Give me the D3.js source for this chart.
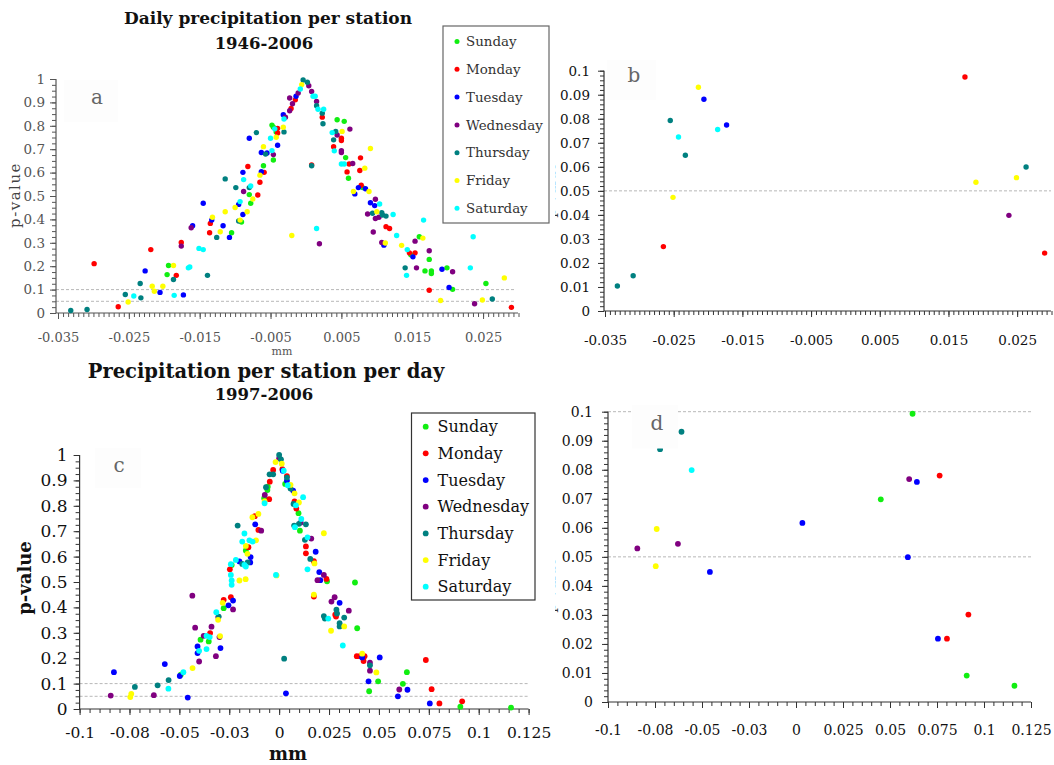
<!DOCTYPE html>
<html><head><meta charset="utf-8">
<script src="https://cdn.jsdelivr.net/npm/d3@7"></script>
<style>body{margin:0;background:#fff} svg{display:block}</style>
</head><body><svg id="chart" width="1054" height="765"></svg>
<script>
const days = ["Sunday","Monday","Tuesday","Wednesday","Thursday","Friday","Saturday"];
const dayColors = ["#11ee11","#ff0000","#0000ff","#800080","#008080","#ffff00","#00ffff"];

// ---- Panel a: daily precipitation per station 1946-2006 (mm, p-value)
const aSunday = [[-0.0196,0.164],[-0.0194,0.203],[-0.0105,0.343],[-0.0091,0.389],[-0.008,0.506],[-0.0078,0.469],[-0.006,0.629],[-0.0048,0.803],[-0.0046,0.794],[-0.0046,0.654],[-0.0042,0.774],[0.0044,0.826],[0.0054,0.819],[0.0056,0.664],[0.006,0.576],[0.008,0.536],[0.0148,0.249],[0.016,0.326],[0.0168,0.18],[0.0174,0.229],[0.0177,0.18],[0.0177,0.169],[0.0199,0.193],[0.0207,0.101],[0.0254,0.126]];
const aMonday = [[-0.0299,0.211],[-0.0265,0.0268],[-0.0219,0.271],[-0.0183,0.161],[-0.0176,0.301],[-0.0136,0.343],[-0.0135,0.383],[-0.0082,0.626],[-0.0068,0.504],[-0.0065,0.559],[-0.0059,0.601],[-0.004,0.769],[-0.004,0.789],[-0.0021,0.874],[-0.0015,0.911],[0.0008,0.633],[0.0023,0.837],[0.0039,0.711],[0.005,0.747],[0.005,0.737],[0.0058,0.603],[0.0061,0.637],[0.0076,0.609],[0.0077,0.663],[0.0078,0.546],[0.0113,0.369],[0.0118,0.361],[0.0146,0.257],[0.0154,0.257],[0.0174,0.0974],[0.029,0.0241]];
const aTuesday = [[-0.0227,0.18],[-0.0206,0.0881],[-0.0173,0.0774],[-0.016,0.373],[-0.0145,0.469],[-0.0133,0.397],[-0.0117,0.373],[-0.0108,0.323],[-0.0095,0.464],[-0.0089,0.421],[-0.0089,0.601],[-0.008,0.747],[-0.0063,0.686],[-0.0063,0.604],[-0.0055,0.684],[-0.004,0.717],[-0.0032,0.847],[-0.0014,0.926],[0.0069,0.509],[0.0074,0.536],[0.0084,0.531],[0.0091,0.471],[0.0097,0.459],[0.011,0.29],[0.0151,0.24],[0.0192,0.187],[0.0202,0.109]];
const aWednesday = [[-0.0176,0.286],[-0.0162,0.364],[-0.0088,0.519],[-0.0046,0.677],[-0.0029,0.837],[-0.0023,0.919],[-0.0023,0.864],[-0.0019,0.894],[-0.0011,0.94],[0.0004,0.971],[0.0008,0.947],[0.0015,0.904],[0.0019,0.296],[0.0044,0.761],[0.005,0.694],[0.005,0.686],[0.0062,0.786],[0.0066,0.639],[0.0087,0.423],[0.0095,0.346],[0.0098,0.486],[0.0098,0.404],[0.0103,0.409],[0.0107,0.301],[0.0154,0.307],[0.0156,0.193],[0.0174,0.266],[0.0207,0.176],[0.0238,0.0398]];
const aThursday = [[-0.0332,0.0104],[-0.0309,0.0147],[-0.0255,0.0793],[-0.0233,0.0648],[-0.0234,0.126],[-0.0187,0.143],[-0.0139,0.161],[-0.0126,0.323],[-0.0114,0.573],[-0.0099,0.536],[-0.0095,0.393],[-0.008,0.536],[-0.007,0.771],[-0.0057,0.679],[-0.0031,0.774],[-0.0004,0.996],[0.0002,0.986],[0.0008,0.629],[0.0015,0.886],[0.0023,0.854],[0.0024,0.809],[0.0039,0.74],[0.0042,0.776],[0.0094,0.426],[0.0107,0.429],[0.0108,0.419],[0.0113,0.414],[0.014,0.193],[0.0263,0.0599]];
const aFriday = [[-0.0251,0.0473],[-0.0217,0.114],[-0.0214,0.0931],[-0.0202,0.114],[-0.0187,0.203],[-0.0132,0.409],[-0.0121,0.347],[-0.0114,0.433],[-0.01,0.451],[-0.0093,0.397],[-0.0083,0.433],[-0.0075,0.487],[-0.0065,0.589],[-0.006,0.711],[-0.0042,0.751],[-0.0032,0.794],[-0.002,0.331],[-0.0006,0.976],[0.0051,0.776],[0.0067,0.519],[0.0083,0.619],[0.0089,0.519],[0.0091,0.703],[0.01,0.433],[0.0112,0.299],[0.0135,0.289],[0.0165,0.32],[0.019,0.0536],[0.0249,0.0555],[0.028,0.15]];
const aSaturday = [[-0.0243,0.0724],[-0.0186,0.0755],[-0.0166,0.193],[-0.0164,0.197],[-0.0151,0.276],[-0.0145,0.271],[-0.0093,0.476],[-0.0088,0.57],[-0.0078,0.543],[-0.005,0.747],[-0.0048,0.694],[-0.0044,0.787],[-0.0031,0.829],[-0.0008,0.957],[0.001,0.926],[0.0013,0.926],[0.0015,0.361],[0.0017,0.871],[0.0025,0.871],[0.0037,0.771],[0.004,0.693],[0.005,0.637],[0.0054,0.637],[0.0104,0.466],[0.0123,0.421],[0.0128,0.331],[0.0142,0.161],[0.0143,0.271],[0.0166,0.397],[0.0232,0.193],[0.0236,0.326]];

// ---- Panel c: precipitation per station per day 1997-2006
const cSunday = [[-0.0493,0.135],[-0.0394,0.273],[-0.0353,0.266],[-0.0278,0.397],[-0.0238,0.567],[-0.0167,0.624],[-0.0075,0.83],[-0.0059,0.862],[-0.0057,0.875],[0.003,0.886],[0.0097,0.771],[0.0104,0.702],[0.024,0.503],[0.038,0.498],[0.0391,0.318],[0.0451,0.0698],[0.0496,0.109],[0.062,0.0993],[0.064,0.145],[0.0908,0.0091],[0.1162,0.0056]];
const cMonday = [[-0.0346,0.299],[-0.0278,0.43],[-0.0247,0.55],[-0.0242,0.44],[-0.0154,0.637],[-0.0122,0.759],[-0.0104,0.705],[-0.005,0.826],[-0.0047,0.895],[-0.003,0.941],[0.0016,0.944],[0.0039,0.917],[0.0077,0.817],[0.0086,0.789],[0.0134,0.64],[0.0134,0.613],[0.0174,0.582],[0.0174,0.443],[0.0237,0.512],[0.0281,0.371],[0.0285,0.364],[0.0389,0.208],[0.0405,0.208],[0.0423,0.189],[0.0428,0.208],[0.0735,0.193],[0.0764,0.078],[0.0803,0.0218],[0.0917,0.0301]];
const cTuesday = [[-0.0828,0.145],[-0.0573,0.177],[-0.0498,0.13],[-0.0458,0.0448],[-0.0409,0.246],[-0.0409,0.22],[-0.0294,0.24],[-0.0254,0.408],[-0.0231,0.427],[-0.0199,0.581],[-0.0145,0.577],[-0.0143,0.598],[-0.012,0.727],[0.0018,0.938],[0.0034,0.0617],[0.0039,0.899],[0.007,0.86],[0.0183,0.619],[0.0201,0.539],[0.0206,0.507],[0.0303,0.418],[0.0416,0.203],[0.0448,0.109],[0.0504,0.203],[0.0595,0.0499],[0.0643,0.0758],[0.0755,0.0218]];
const cWednesday = [[-0.0844,0.0529],[-0.0628,0.0545],[-0.0435,0.446],[-0.0421,0.32],[-0.0401,0.187],[-0.0378,0.288],[-0.0339,0.324],[-0.0317,0.208],[-0.0305,0.362],[-0.0299,0.283],[-0.0231,0.392],[-0.009,0.702],[-0.0072,0.843],[0.0,0.987],[0.0108,0.734],[0.0161,0.671],[0.0192,0.507],[0.0224,0.528],[0.0262,0.423],[0.0278,0.44],[0.0349,0.387],[0.0455,0.182],[0.0455,0.151],[0.0602,0.0768]];
const cThursday = [[-0.0723,0.0871],[-0.0609,0.0931],[-0.0554,0.114],[-0.0303,0.364],[-0.0208,0.722],[-0.0185,0.571],[-0.0158,0.577],[-0.0066,0.873],[-0.0048,0.924],[-0.003,0.924],[0.0,1.0],[0.0009,0.983],[0.0025,0.198],[0.0039,0.911],[0.0057,0.868],[0.0072,0.807],[0.0075,0.722],[0.0099,0.729],[0.0129,0.666],[0.0134,0.727],[0.0156,0.591],[0.0224,0.366],[0.0229,0.356],[0.0287,0.391],[0.029,0.376],[0.0303,0.338],[0.0303,0.325],[0.0326,0.36],[0.0455,0.172]];
const cFriday = [[-0.0746,0.0468],[-0.0741,0.0596],[-0.0434,0.161],[-0.0306,0.351],[-0.0296,0.287],[-0.0283,0.418],[-0.0199,0.506],[-0.0168,0.511],[-0.0167,0.642],[-0.0159,0.611],[-0.0134,0.755],[-0.0116,0.664],[-0.0104,0.768],[-0.0073,0.817],[-0.0018,0.972],[-0.0013,0.526],[0.0013,0.966],[0.0057,0.882],[0.0077,0.849],[0.0099,0.813],[0.0174,0.45],[0.0177,0.573],[0.0224,0.692],[0.026,0.308],[0.0326,0.325],[0.0416,0.218],[0.0487,0.144]];
const cSaturday = [[-0.0555,0.0799],[-0.048,0.145],[-0.0401,0.229],[-0.0364,0.288],[-0.0364,0.236],[-0.0348,0.283],[-0.0315,0.381],[-0.0242,0.528],[-0.0238,0.506],[-0.0238,0.489],[-0.0242,0.57],[-0.0217,0.587],[-0.0185,0.659],[-0.0174,0.691],[-0.0174,0.567],[-0.0167,0.561],[-0.0149,0.664],[-0.0133,0.659],[-0.0073,0.81],[-0.0016,0.528],[0.0023,0.938],[0.0043,0.881],[0.0079,0.716],[0.0084,0.802],[0.0111,0.748],[0.012,0.834],[0.0142,0.676],[0.0142,0.55],[0.0246,0.356],[0.0319,0.25]];

// ---- ticks & labels
const xTicksA = [-0.035,-0.025,-0.015,-0.005,0.005,0.015,0.025];
const xTickLabelsA = ["-0.035","-0.025","-0.015","-0.005","0.005","0.015","0.025"];
const yTicksP = [0,0.1,0.2,0.3,0.4,0.5,0.6,0.7,0.8,0.9,1];
const yTickLabelsP = ["0","0.1","0.2","0.3","0.4","0.5","0.6","0.7","0.8","0.9","1"];
const yTicksZoom = [0,0.01,0.02,0.03,0.04,0.05,0.06,0.07,0.08,0.09,0.1];
const yTickLabelsZoom = ["0","0.01","0.02","0.03","0.04","0.05","0.06","0.07","0.08","0.09","0.1"];
const xTicksC = [-0.1,-0.075,-0.05,-0.025,0,0.025,0.05,0.075,0.1,0.125];
const xTickLabelsC = ["-0.1","-0.08","-0.05","-0.03","0","0.025","0.05","0.075","0.1","0.125"];
const significance = [0.05, 0.1];

const seriesA = [aSunday,aMonday,aTuesday,aWednesday,aThursday,aFriday,aSaturday];
const seriesC = [cSunday,cMonday,cTuesday,cWednesday,cThursday,cFriday,cSaturday];

const svg = d3.select("#chart");
const SERIF = "'DejaVu Serif', serif";

function steps(a, b, step){ const n = Math.round((b-a)/step); return d3.range(n+1).map(i => +(a + i*step).toFixed(8)); }

function drawPanel(p){
  const x = d3.scaleLinear().domain(p.xDomain).range(p.xRange);
  const y = d3.scaleLinear().domain(p.yDomain).range(p.yRange);
  const g = svg.append("g");
  const y0 = y(p.yDomain[0]);
  p.dashes.forEach(v => g.append("line").attr("x1", p.axisX).attr("x2", p.dashEnd)
    .attr("y1", y(v)).attr("y2", y(v)).attr("stroke", "#b8b8b8").attr("stroke-width", 1).attr("stroke-dasharray", "3,2"));
  const gxm = g.append("g").attr("transform", `translate(0,${y0})`).attr("color", p.axisColor)
    .call(d3.axisBottom(x).tickValues(p.xMinor).tickSize(4).tickSizeOuter(0).tickFormat(""));
  gxm.select(".domain").remove();
  const pad = p.xLabelY - y0 - 6 - 0.35*p.xFont;
  const gx = g.append("g").attr("transform", `translate(0,${y0})`).attr("color", p.axisColor)
    .call(d3.axisBottom(x).tickValues(p.xTicks).tickSize(6).tickSizeOuter(0).tickPadding(pad)
      .tickFormat((d,i) => p.xLabels[i]));
  gx.select(".domain").remove();
  gx.selectAll("text").attr("fill", p.textColor).style("font-family", SERIF).style("font-size", p.xFont + "px");
  const gym = g.append("g").attr("transform", `translate(${p.axisX},0)`).attr("color", p.axisColor)
    .call(d3.axisLeft(y).tickValues(p.yMinor).tickSize(4).tickSizeOuter(0).tickFormat(""));
  gym.select(".domain").remove();
  const gy = g.append("g").attr("transform", `translate(${p.axisX},0)`).attr("color", p.axisColor)
    .call(d3.axisLeft(y).tickValues(p.yTicks).tickSize(6).tickSizeOuter(0).tickPadding(p.yPad)
      .tickFormat((d,i) => p.yLabels[i]));
  gy.select(".domain").remove();
  gy.selectAll("text").attr("fill", p.textColor).style("font-family", SERIF).style("font-size", p.yFont + "px");
  g.append("line").attr("x1", p.axisX).attr("x2", p.axisXEnd).attr("y1", y0).attr("y2", y0).attr("stroke", p.axisColor).attr("stroke-width", 1.2);
  g.append("line").attr("x1", p.axisX).attr("x2", p.axisX).attr("y1", y0).attr("y2", y(p.yDomain[1])).attr("stroke", p.axisColor).attr("stroke-width", 1.2);
  p.series.forEach((s, i) => {
    g.append("g").selectAll("circle").data(s.filter(d => d[1] <= p.yDomain[1])).join("circle")
      .attr("cx", d => x(d[0])).attr("cy", d => y(d[1])).attr("r", p.r).attr("fill", dayColors[i]);
  });
  g.append("rect").attr("x", p.box[0]).attr("y", p.box[1]).attr("width", p.box[2]).attr("height", p.box[3]).attr("fill", "#fdfdfd");
  g.append("text").attr("x", p.letterPos[0]).attr("y", p.letterPos[1]).attr("text-anchor", "middle")
    .style("font-family", SERIF).style("font-size", "20px").attr("fill", "#666").text(p.letter);
  return g;
}

function legend(x0, y0, w, h, rowY, rowH, mx, tx, font, col, stroke, r){
  const g = svg.append("g");
  g.append("rect").attr("x", x0).attr("y", y0).attr("width", w).attr("height", h).attr("fill", "#fff").attr("stroke", stroke).attr("stroke-width", 1.2);
  days.forEach((d, i) => {
    const yy = rowY + i*rowH;
    g.append("circle").attr("cx", mx).attr("cy", yy).attr("r", r).attr("fill", dayColors[i]);
    g.append("text").attr("x", tx).attr("y", yy).attr("dy", "0.35em").style("font-family", SERIF)
      .style("font-size", font + "px").attr("fill", col).text(d);
  });
}

function text(x, y, s, size, opts = {}){
  const t = svg.append("text").attr("x", x).attr("y", y).attr("text-anchor", "middle").attr("dy", "0.35em")
    .style("font-family", SERIF).style("font-size", size + "px").attr("fill", opts.fill || "#111").text(s);
  if (opts.bold) t.style("font-weight", "bold");
  if (opts.rotate) t.attr("transform", `rotate(-90,${x},${y})`);
  if (opts.ls) t.style("letter-spacing", opts.ls + "px");
  return t;
}

// ---- Panel a
drawPanel({series: seriesA, xDomain: [-0.035, 0.03], xRange: [58, 518.5], yDomain: [0, 1], yRange: [313, 79],
  axisX: 56, axisXEnd: 518, dashEnd: 514, dashes: significance, axisColor: "#555", textColor: "#555",
  xTicks: xTicksA, xLabels: xTickLabelsA, xMinor: steps(-0.035, 0.03, 0.01/14), xLabelY: 337, xFont: 13,
  yTicks: yTicksP, yLabels: yTickLabelsP, yMinor: steps(0, 1, 0.025), yPad: 5, yFont: 13.5, r: 2.7,
  box: [64, 80, 54, 42], letterPos: [97, 104], letter: "a"});
// ---- Panel b
drawPanel({series: seriesA.map(s => s.filter(d => d[1] < 0.1)), xDomain: [-0.035, 0.03], xRange: [605, 1051.5], yDomain: [0, 0.1], yRange: [311, 70.7],
  axisX: 604, axisXEnd: 1051, dashEnd: 1051, dashes: [0.05], axisColor: "#333", textColor: "#111",
  xTicks: xTicksA, xLabels: xTickLabelsA, xMinor: steps(-0.035, 0.03, 0.01/14), xLabelY: 340, xFont: 13.5,
  yTicks: yTicksZoom, yLabels: yTickLabelsZoom, yMinor: steps(0, 0.1, 0.002), yPad: 8, yFont: 13.5, r: 2.7,
  box: [607, 60, 49, 40], letterPos: [634, 82], letter: "b"});
// ---- Panel c
drawPanel({series: seriesC, xDomain: [-0.1, 0.125], xRange: [79.6, 528.6], yDomain: [0, 1], yRange: [709, 455],
  axisX: 79.6, axisXEnd: 528.6, dashEnd: 528.6, dashes: significance, axisColor: "#333", textColor: "#111",
  xTicks: xTicksC, xLabels: xTickLabelsC, xMinor: steps(-0.1, 0.125, 0.005), xLabelY: 732, xFont: 15.5,
  yTicks: yTicksP, yLabels: yTickLabelsP, yMinor: steps(0, 1, 0.025), yPad: 6, yFont: 17, r: 2.9,
  box: [95, 448, 46, 40], letterPos: [119, 472], letter: "c"});
// ---- Panel d
drawPanel({series: seriesC.map(s => s.filter(d => d[1] < 0.1)), xDomain: [-0.1, 0.125], xRange: [608, 1031], yDomain: [0, 0.1], yRange: [702, 411.7],
  axisX: 608, axisXEnd: 1031, dashEnd: 1031, dashes: significance, axisColor: "#333", textColor: "#111",
  xTicks: xTicksC, xLabels: xTickLabelsC, xMinor: steps(-0.1, 0.125, 0.005), xLabelY: 730, xFont: 14,
  yTicks: yTicksZoom, yLabels: yTickLabelsZoom, yMinor: steps(0, 0.1, 0.002), yPad: 9, yFont: 14, r: 2.9,
  box: [632, 405, 46, 43.5], letterPos: [657, 430], letter: "d"});

// ---- titles and axis labels
text(268, 18, "Daily precipitation per station", 17, {bold: true});
text(264, 43, "1946-2006", 16.5, {bold: true});
text(282, 351.5, "mm", 11, {fill: "#555"});
text(15, 195, "p-value", 15, {rotate: true, fill: "#444", ls: 1.5});

text(266, 371.5, "Precipitation per station per day", 19.5, {bold: true});
text(264, 394, "1997-2006", 16.5, {bold: true});
text(288, 753.5, "mm", 18, {bold: true});
text(25, 578, "p-value", 18, {bold: true, rotate: true});

// partially hidden y labels of panels b and d
const clip = svg.append("defs").append("clipPath").attr("id", "edge");
clip.append("rect").attr("x", 555).attr("y", 0).attr("width", 8).attr("height", 765);
const hidden = svg.append("g").attr("clip-path", "url(#edge)");
[[550, 190], [550, 585]].forEach(([cx, cy]) => hidden.append("text").attr("x", cx).attr("y", cy).attr("text-anchor", "middle")
  .attr("dy", "0.35em").attr("transform", `rotate(-90,${cx},${cy})`).style("font-family", SERIF).style("font-size", "15px")
  .attr("fill", "#333").text("p-value"));

// ---- legends
legend(443, 26, 106, 197, 41.5, 27.8, 457, 466, 13.4, "#333", "#666", 2.5);
legend(411.5, 413, 123.5, 187, 426.7, 26.67, 425.7, 437.5, 16, "#111", "#333", 2.9);
</script></body></html>
